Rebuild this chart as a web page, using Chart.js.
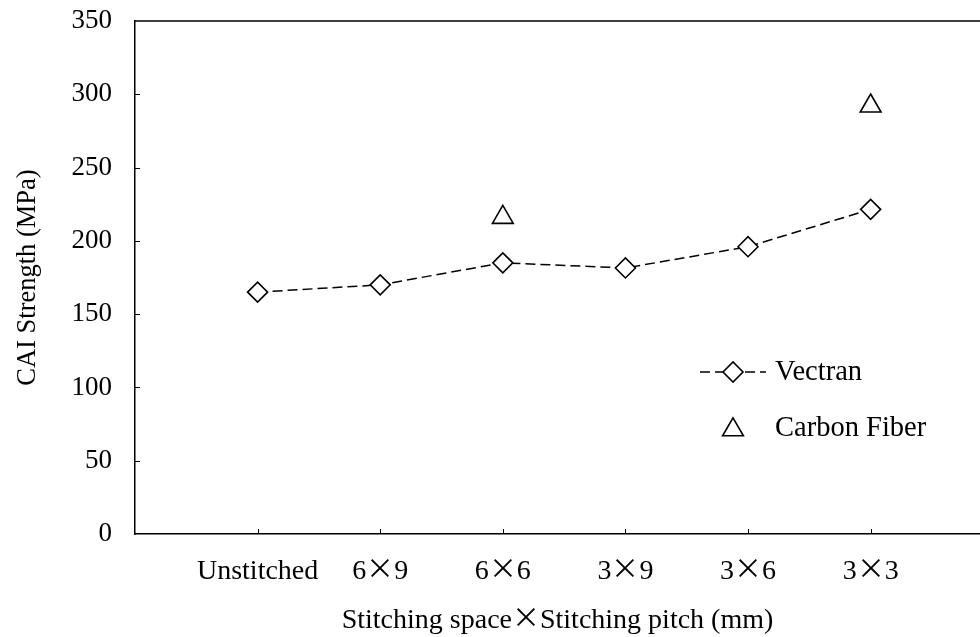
<!DOCTYPE html>
<html><head><meta charset="utf-8">
<script src="https://cdn.jsdelivr.net/npm/chart.js@4/dist/chart.umd.min.js"></script>
<style>
@font-face { font-family: 'MulX'; src: local('Noto Sans CJK JP Regular'), local('NotoSansCJKjp-Regular'), local('Noto Sans CJK JP'); unicode-range: U+00D7; }
html,body{margin:0;padding:0;background:#fff}
canvas{display:block}
</style>
</head><body>
<canvas id="c" width="980" height="637"></canvas>
<script>
const categories = ['Unstitched', '6\u00D79', '6\u00D76', '3\u00D79', '3\u00D76', '3\u00D73'];
const vectranValues = [165, 170, 185, 181.5, 196, 221.5];
const carbonValues = [null, null, 216, null, null, 292];
const yTickValues = [0, 50, 100, 150, 200, 250, 300, 350];
const seriesNames = ['Vectran', 'Carbon Fiber'];
const xTitle = 'Stitching space\u00D7Stitching pitch (mm)';
const yTitle = 'CAI Strength (MPa)';

const FONT = 'MulX, "Liberation Serif", "Times New Roman", serif';

function toPoints(vals) {
  return vals.map((v, i) => ({x: i, y: v})).filter(p => p.y !== null);
}

const decor = {
  id: 'decor',
  afterDatasetsDraw(chart, args, opts) {
    const {ctx, chartArea: a, scales: {x, y}} = chart;
    ctx.save();
    ctx.strokeStyle = '#000';
    ctx.lineWidth = 1.5;
    ctx.setLineDash([]);
    ctx.beginPath(); ctx.moveTo(a.left - 0.75, a.top); ctx.lineTo(a.right, a.top); ctx.stroke();
    ctx.lineWidth = 1;
    y.ticks.forEach(t => {
      if (t.value <= y.min || t.value >= y.max) return;
      const py = Math.round(y.getPixelForValue(t.value)) + 0.5;
      ctx.beginPath(); ctx.moveTo(a.left, py); ctx.lineTo(a.left + 5, py); ctx.stroke();
    });
    x.ticks.forEach(t => {
      const px = Math.round(x.getPixelForValue(t.value)) + 0.5;
      ctx.beginPath(); ctx.moveTo(px, a.bottom); ctx.lineTo(px, a.bottom - 5); ctx.stroke();
    });
    // legend
    const L = opts.legend;
    ctx.font = L.fontSize + 'px ' + FONT;
    ctx.fillStyle = '#000';
    ctx.textBaseline = 'middle';
    ctx.textAlign = 'left';
    chart.data.datasets.forEach((ds, i) => {
      const cy = L.y + i * L.rowGap;
      if (ds.showLine !== false) {
        ctx.save();
        ctx.lineWidth = ds.borderWidth;
        ctx.strokeStyle = ds.borderColor;
        ctx.setLineDash(ds.borderDash || []);
        ctx.beginPath(); ctx.moveTo(L.x, cy); ctx.lineTo(L.x + L.lineLen, cy); ctx.stroke();
        ctx.restore();
      }
      ctx.save();
      ctx.fillStyle = ds.pointBackgroundColor;
      ctx.strokeStyle = ds.pointBorderColor;
      ctx.lineWidth = ds.pointBorderWidth;
      ctx.setLineDash([]);
      const off = ds.pointStyle === 'triangle' ? ds.pointRadius * 0.15 : 0;
      Chart.helpers.drawPoint(ctx, {pointStyle: ds.pointStyle, rotation: 0, radius: ds.pointRadius, borderWidth: ds.pointBorderWidth}, L.x + L.lineLen / 2, cy + off);
      ctx.restore();
      ctx.fillText(ds.label, L.x + L.textOff, cy + 1);
    });
    ctx.restore();
  }
};

function draw() {
  Chart.defaults.font.family = FONT;
  Chart.defaults.font.size = 27;
  Chart.defaults.color = '#000';
  new Chart(document.getElementById('c'), {
    type: 'line',
    data: {
      datasets: [
        {
          label: seriesNames[0],
          data: toPoints(vectranValues),
          borderColor: '#000',
          borderWidth: 1.5,
          borderDash: [10, 5],
          tension: 0,
          pointStyle: 'rectRot',
          pointRadius: 10,
          pointHoverRadius: 10,
          pointBorderWidth: 1.6,
          pointBackgroundColor: '#fff',
          pointBorderColor: '#000'
        },
        {
          label: seriesNames[1],
          data: toPoints(carbonValues),
          showLine: false,
          borderColor: '#000',
          borderWidth: 1.5,
          pointStyle: 'triangle',
          pointRadius: 12,
          pointHoverRadius: 12,
          pointBorderWidth: 1.6,
          pointBackgroundColor: '#fff',
          pointBorderColor: '#000'
        }
      ]
    },
    options: {
      responsive: false,
      animation: false,
      devicePixelRatio: 1,
      layout: {autoPadding: false, padding: {top: 21, left: 0, right: 0, bottom: 0}},
      plugins: {
        legend: {display: false},
        tooltip: {enabled: false},
        decor: {legend: {x: 700, y: 372, rowGap: 56, lineLen: 66, textOff: 75, fontSize: 28.5}}
      },
      scales: {
        x: {
          type: 'linear',
          min: -1,
          max: 5.892,
          afterBuildTicks: s => { s.ticks = categories.map((c, i) => ({value: i})); },
          afterFit: s => { s.height = 103; s.paddingLeft = 0; s.paddingRight = 0; },
          grid: {display: false, drawTicks: false},
          border: {display: true, color: '#000', width: 1.5},
          ticks: {padding: 21, maxRotation: 0, autoSkip: false, font: {size: 28}, callback: v => categories[v]},
          title: {display: true, text: xTitle, font: {size: 28}, padding: {top: 0, bottom: 0}}
        },
        y: {
          min: 0,
          max: 350,
          afterBuildTicks: s => { s.ticks = yTickValues.map(v => ({value: v})); },
          afterFit: s => { s.width = 135; s.paddingTop = 0; s.paddingBottom = 0; },
          grid: {display: false, drawTicks: false},
          border: {display: true, color: '#000', width: 1.5},
          ticks: {padding: 23, font: {size: 27}},
          title: {display: true, text: yTitle, font: {size: 26.5}, padding: {top: 12, bottom: 0}}
        }
      }
    },
    plugins: [decor]
  });
}

const loads = [
  document.fonts.load('28px MulX', '\u00D7'),
  document.fonts.load('28px "Liberation Serif"')
];
Promise.all(loads).then(draw, draw);
</script>
</body></html>
